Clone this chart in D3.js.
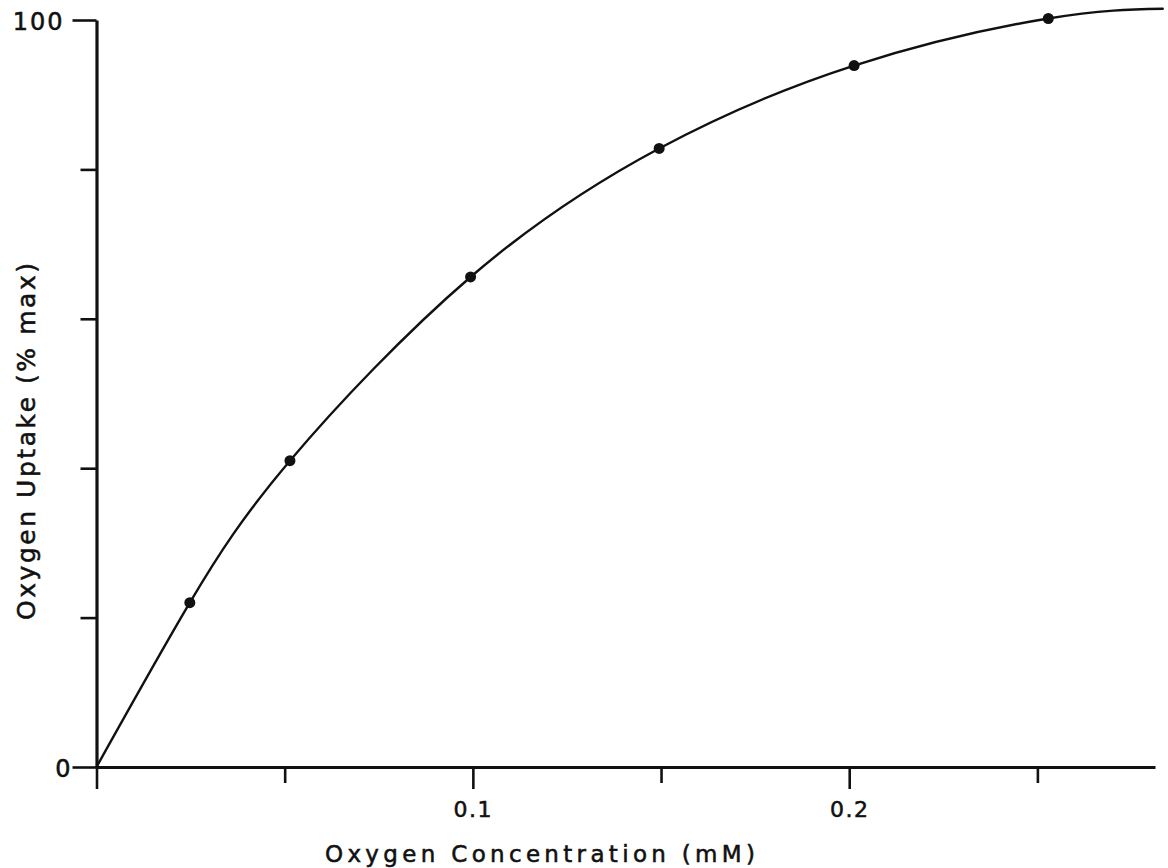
<!DOCTYPE html>
<html>
<head>
<meta charset="utf-8">
<script src="https://cdn.jsdelivr.net/npm/d3@7"></script>
<style>
  html, body { margin: 0; padding: 0; background: #ffffff; }
  svg { display: block; }
  text { font-family: "DejaVu Sans", "Liberation Sans", Arial, sans-serif; fill: #111; stroke: #111; stroke-width: 0.55px; }
</style>
</head>
<body>
<svg id="chart" width="1168" height="868"></svg>
<script>
// Measured oxygen uptake at each oxygen concentration
const concentration = [0.0248, 0.0514, 0.0994, 0.1495, 0.2013, 0.2529]; // mM
const uptake        = [22.0, 41.0, 65.6, 82.8, 93.9, 100.2];             // % of maximum

// Hand-fitted saturation curve: starts at the origin, runs through the points, levels off
const curveConc   = [0, 0.0248, 0.0514, 0.0994, 0.1495, 0.2013, 0.2529, 0.2833];
const curveUptake = [0, 22.0, 41.0, 65.6, 82.8, 93.9, 100.2, 101.5];

// Axis ticks and their labels
const xTicks = [0, 0.05, 0.1, 0.15, 0.2, 0.25];
const xTickLabels = ["", "", "0.1", "", "0.2", ""];
const yTicks = [0, 20, 40, 60, 80, 100];
const yTickLabels = ["0", "", "", "", "", "100"];

const xTitle = "Oxygen Concentration (mM)";
const yTitle = "Oxygen Uptake (% max)";

const svg = d3.select("#chart");
const ink = "#111";

const x = d3.scaleLinear().domain([0, 0.28125]).range([96.5, 1155]);
const y = d3.scaleLinear().domain([0, 100]).range([767, 20]);

// Labelled ticks (and the origin) are drawn longer than the others
const isMajorX = d => xTickLabels[xTicks.indexOf(d)] !== "" || d === 0;
const isMajorY = d => yTickLabels[yTicks.indexOf(d)] !== "";

// X axis
const xAxis = d3.axisBottom(x)
  .tickValues(xTicks)
  .tickSizeOuter(0)
  .tickFormat(d => xTickLabels[xTicks.indexOf(d)]);

const gx = svg.append("g")
  .attr("transform", `translate(0,${y(0)})`)
  .call(xAxis);
gx.select(".domain").attr("stroke", ink).attr("stroke-width", 3.2);
gx.selectAll(".tick line")
  .attr("stroke", ink).attr("stroke-width", 2.6)
  .attr("y2", d => isMajorX(d) ? 22 : 16);
gx.selectAll(".tick text")
  .attr("y", 50).attr("dy", 0)
  .style("font-size", "22px")
  .style("letter-spacing", "1.5px")
  .attr("fill", ink);

// Y axis
const yAxis = d3.axisLeft(y)
  .tickValues(yTicks)
  .tickSizeOuter(0)
  .tickFormat(d => yTickLabels[yTicks.indexOf(d)]);

const gy = svg.append("g")
  .attr("transform", `translate(${x(0)},0)`)
  .call(yAxis);
gy.select(".domain").attr("stroke", ink).attr("stroke-width", 3.2);
gy.selectAll(".tick line")
  .attr("stroke", ink).attr("stroke-width", 2.6)
  .attr("x2", d => isMajorY(d) ? -24 : -16);
gy.selectAll(".tick text")
  .attr("x", d => d === 0 ? -24 : -32)
  .attr("dy", 9)
  .style("font-size", "24px")
  .style("letter-spacing", "2px")
  .attr("fill", ink);

// Axis titles, spaced out to their full lettered width
svg.append("text")
  .attr("x", 540).attr("y", 862)
  .attr("text-anchor", "middle")
  .attr("textLength", 430)
  .attr("lengthAdjust", "spacing")
  .style("font-size", "23px")
  .text(xTitle);

svg.append("text")
  .attr("transform", "translate(35,441.5) rotate(-90)")
  .attr("text-anchor", "middle")
  .attr("textLength", 357)
  .attr("lengthAdjust", "spacing")
  .style("font-size", "25px")
  .text(yTitle);

// Fitted curve
const curvePts = curveConc.map((c, i) => [c, curveUptake[i]]);
const line = d3.line()
  .x(d => x(d[0]))
  .y(d => y(d[1]))
  .curve(d3.curveNatural);

svg.append("path")
  .datum(curvePts)
  .attr("d", line)
  .attr("fill", "none")
  .attr("stroke", ink)
  .attr("stroke-width", 2.4)
  .attr("stroke-linecap", "round");

// Data points
svg.append("g")
  .selectAll("circle")
  .data(concentration.map((c, i) => [c, uptake[i]]))
  .join("circle")
  .attr("cx", d => x(d[0]))
  .attr("cy", d => y(d[1]))
  .attr("r", 5.5)
  .attr("fill", ink);
</script>
</body>
</html>
